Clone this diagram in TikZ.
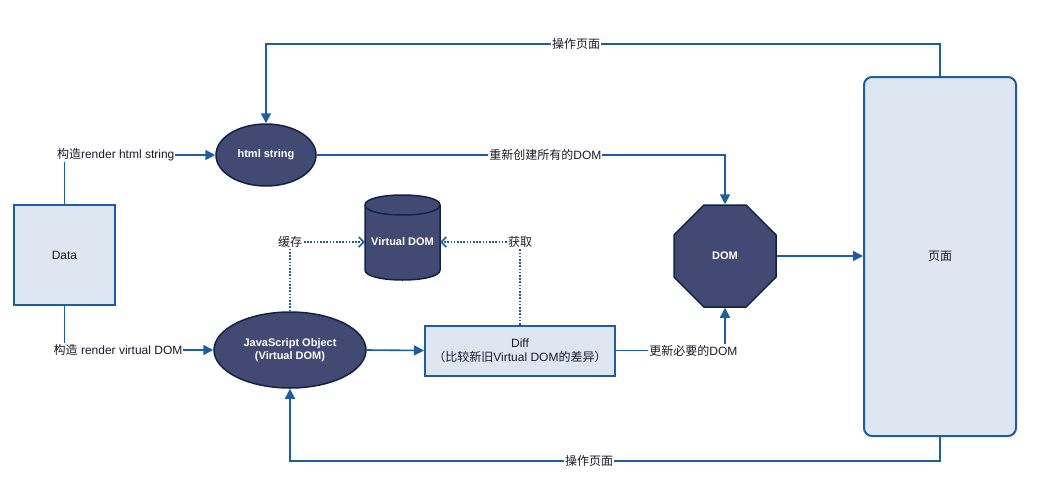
\documentclass[tikz,border=0pt]{standalone}
\usepackage{fontspec}
\setmainfont{Liberation Sans}
\newfontfamily\cjk{Noto Sans CJK SC}
\usetikzlibrary{shapes.geometric,arrows.meta}
\definecolor{lineblue}{HTML}{1B5EA6}
\definecolor{lightfill}{HTML}{DEE6F1}
\definecolor{darkfill}{HTML}{424A73}
\definecolor{darkstroke}{HTML}{0F2444}
\definecolor{txt}{HTML}{1A1A2A}
\tikzset{
  base/.style={font=\fontsize{12}{14}\selectfont, inner sep=0pt},
  lightbox/.style={base, draw=lineblue, fill=lightfill, line width=2pt, text=txt},
  darkshape/.style={base, draw=darkstroke, fill=darkfill, line width=1.5pt, text=white, font=\fontsize{11}{13}\selectfont\bfseries, align=center},
  arr/.style={draw=lineblue, line width=1.6pt, -{Triangle[length=10pt,width=10pt]}},
  dotarr/.style={draw=lineblue, line width=1.5pt, dash pattern=on 1.6pt off 1.6pt, -{Straight Barb[length=5pt,width=10pt,line width=1.5pt]}},
  lbl/.style={base, fill=white, text=txt, inner xsep=1pt, inner ysep=1pt}
}
\begin{document}
\begin{tikzpicture}[x=1pt,y=-1pt]
\useasboundingbox (0,0) rectangle (1039,491);
% nodes
\node[lightbox, minimum width=101pt, minimum height=100pt] (data) at (64.5,255) {Data};
\node[darkshape, ellipse, minimum width=100pt, minimum height=62pt] (html) at (266,155) {html string};
\node[darkshape, ellipse, minimum width=152pt, minimum height=76pt] (js) at (290,350) {JavaScript Object\\(Virtual DOM)};
\node[lightbox, minimum width=190pt, minimum height=50pt, align=center] (diff) at (520,350.5) {Diff\\{\cjk （比较新旧}Virtual DOM{\cjk 的差异）}};
\node[darkshape, regular polygon, regular polygon sides=8, minimum size=110.4pt] (dom) at (725,256) {DOM};
\node[lightbox, rounded corners=8pt, minimum width=152pt, minimum height=359pt] (page) at (940,256.5) {\cjk 页面};
% cylinder
\node[base, minimum width=75pt, minimum height=85pt] (vdom) at (402.5,237.5) {};
\path[fill=darkfill, draw=darkstroke, line width=1.5pt]
  (365,205) -- (365,270) .. controls (365,283.33) and (440,283.33) .. (440,270)
  -- (440,205) .. controls (440,191.67) and (365,191.67) .. (365,205) -- cycle;
\draw[darkstroke, line width=1.5pt] (365,205) .. controls (365,218.33) and (440,218.33) .. (440,205);
\node[base, text=white, font=\fontsize{11}{13}\selectfont\bfseries] (vdomtxt) at (402.5,242) {Virtual DOM};
\coordinate (cy) at (0,242);
% connectors
\draw[arr] (data.north) |- node[lbl, pos=0.67] {{\cjk 构造}render html string} (html.west);
\draw[arr] (data.south) |- node[lbl, pos=0.68] {{\cjk 构造} render virtual DOM} (js.west);
\draw[arr] (html.east) -| node[lbl, pos=0.28] {{\cjk 重新创建所有的}DOM} (dom.north);
\draw[arr] (dom.east) -- (dom.east -| page.west);
\draw[arr] (js.east) -- (diff.west);
\draw[arr] (diff.east) -| node[lbl, pos=0.355] {{\cjk 更新必要的}DOM} (dom.south);
\draw[arr] (page.north) -- ++(0,-32) -| node[lbl, pos=0.27] {\cjk 操作页面} (html.north);
\draw[arr] (page.south) -- ++(0,24) -| node[lbl, pos=0.27] {\cjk 操作页面} (js.south);
\draw[dotarr] (js.north) |- node[lbl, pos=0.5] {\cjk 缓存} (vdom.west |- cy);
\draw[dotarr] (diff.north) |- node[lbl, pos=0.5] {\cjk 获取} (vdom.east |- cy);
\end{tikzpicture}
\end{document}
